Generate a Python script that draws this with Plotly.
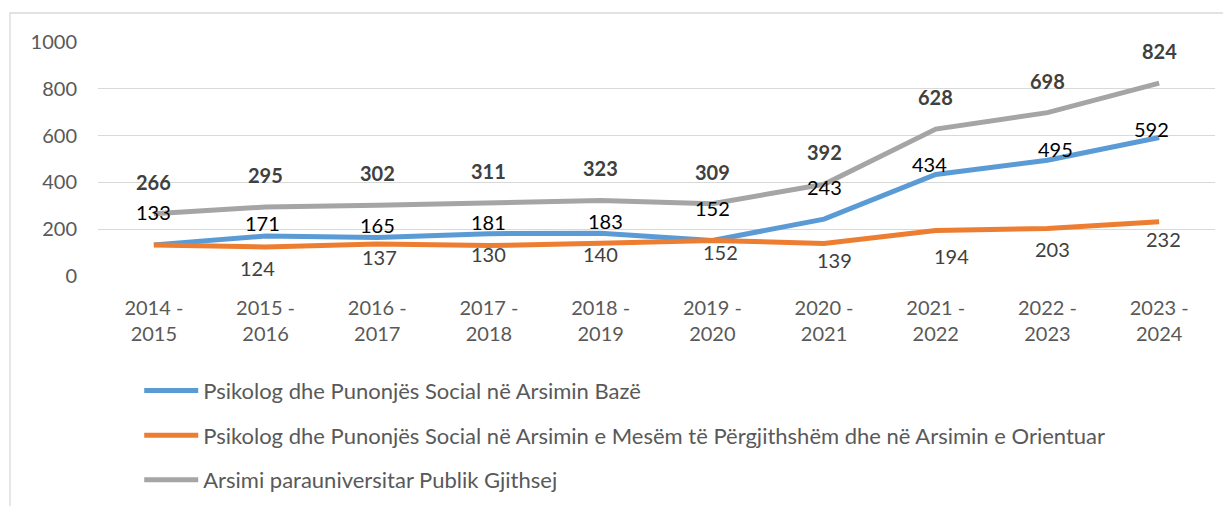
import plotly.graph_objects as go

# ---- data ----
years = ["2014 - 2015", "2015 - 2016", "2016 - 2017", "2017 - 2018", "2018 - 2019",
         "2019 - 2020", "2020 - 2021", "2021 - 2022", "2022 - 2023", "2023 - 2024"]
tick_labels = [y.replace(" - ", " -<br>") for y in years]
baze = [133, 171, 165, 181, 183, 152, 243, 434, 495, 592]
mesem = [133, 124, 137, 130, 140, 152, 139, 194, 203, 232]
gjithsej = [266, 295, 302, 311, 323, 309, 392, 628, 698, 824]

names = ["Psikolog dhe Punonjës Social në Arsimin Bazë",
         "Psikolog dhe Punonjës Social në Arsimin e Mesëm të Përgjithshëm dhe në Arsimin e Orientuar",
         "Arsimi parauniversitar Publik Gjithsej"]

# ---- style ----
FONT = "Lato"
colors = ["#5B9BD5", "#ED7D31", "#A5A5A5"]
# label pixel offsets (dx, dy) per point
baze_off = [(0, 33), (-3, 13), (0, 12), (0, 12), (5, 12), (0, 32), (0, 32), (-6, 10), (8, 11), (-8, 8)]
mesem_off = [None, (-8, -21), (2, -13), (0, -8), (0, -11), (8, -12), (10, -17), (16, -25), (5, -20), (4, -17)]
gj_off = [(0, 32)] * 10

fig = go.Figure()
for i, (vals, nm) in enumerate(zip([baze, mesem, gjithsej], names)):
    fig.add_trace(go.Scatter(
        x=years, y=vals, name=nm, mode="lines", legendgroup=f"g{i}",
        line=dict(color=colors[i], width=5, shape="linear"),
        hoverinfo="skip"))

annotations = []
for vals, offs, col, bold in [(baze, baze_off, "#000000", False),
                              (mesem, mesem_off, "#404040", False),
                              (gjithsej, gj_off, "#404040", True)]:
    for xv, yv, off in zip(years, vals, offs):
        if off is None:
            continue
        annotations.append(dict(
            x=xv, y=yv, xref="x", yref="y", text=(f"<b>{yv}</b>" if bold else str(yv)),
            showarrow=False, xshift=off[0], yshift=off[1],
            font=dict(family=FONT, size=20, color=col)))

fig.update_layout(
    width=1231, height=506,
    margin=dict(l=90, r=24, t=34, b=238, autoexpand=False),
    paper_bgcolor="white", plot_bgcolor="white",
    font=dict(family=FONT, size=20, color="#595959"),
    showlegend=True,
    legend=dict(
        xref="container", yref="container", x=0.1066, y=0.285,
        xanchor="left", yanchor="top", itemwidth=54,
        font=dict(family=FONT, size=22, color="#595959"),
        tracegroupgap=13, bgcolor="rgba(0,0,0,0)"),
    annotations=annotations,
    shapes=[dict(type="rect", xref="paper", yref="paper",
                 x0=-88 / 1117, x1=1.1, y0=-1.5, y1=1 + 29 / 234,
                 line=dict(color="#D9D9D9", width=1.3), layer="below")],
)
fig.update_xaxes(
    type="category", range=[-0.5, 9.5], tickmode="array",
    tickvals=years, ticktext=tick_labels, tickangle=0,
    showgrid=False, showline=False, ticks="", ticklabelstandoff=18,
    tickfont=dict(family=FONT, size=20, color="#595959"))
fig.update_yaxes(
    range=[0, 1000], dtick=200, showgrid=True, gridcolor="#D9D9D9", gridwidth=1.3,
    zeroline=False, showline=False, ticks="", ticklabelstandoff=20,
    tickfont=dict(family=FONT, size=20, color="#595959"))

fig.write_html("out.html")
